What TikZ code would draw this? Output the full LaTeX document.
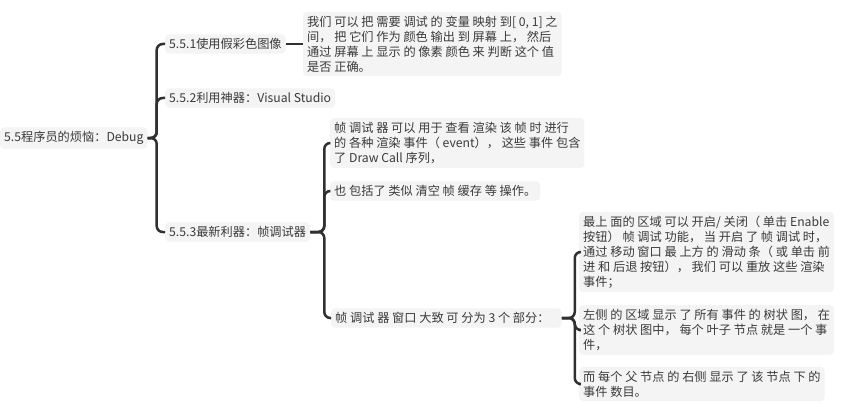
\documentclass[tikz,border=0pt]{standalone}
\usepackage{fontspec}
\setmainfont{Noto Sans CJK SC}
\definecolor{boxfill}{HTML}{F4F4F4}
\definecolor{txt}{HTML}{3A3A3A}
\definecolor{linec}{HTML}{303030}
\tikzset{
  topic/.style={fill=boxfill, rounded corners=4pt, text=txt, inner xsep=4pt, inner ysep=4pt,
    font=\fontsize{12.2}{15}\selectfont, align=left, anchor=west},
  conn/.style={draw=linec, line width=2.5pt, rounded corners=6pt},
}
\begin{document}
\begin{tikzpicture}[x=1pt,y=-1pt]
\useasboundingbox[fill=white] (0,0) rectangle (863,404);
\node[topic] (root) at (0,138) {5.5程序员的烦恼：Debug};
\node[topic] (c1) at (165,44) {5.5.1使用假彩色图像};
\node[topic] (c2) at (165,98) {5.5.2利用神器：Visual Studio};
\node[topic] (c3) at (165,232) {5.5.3最新利器：帧调试器};
\node[topic] (l1) at (303,44) {我们 可以 把 需要 调试 的 变量 映射 到[ 0, 1] 之\\间， 把 它们 作为 颜色 输出 到 屏幕 上， 然后\\通过 屏幕 上 显示 的 像素 颜色 来 判断 这个 值\\是否 正确。};
\node[topic] (l3a) at (330,143) {帧 调试 器 可以 用于 查看 渲染 该 帧 时 进行\\的 各种 渲染 事件（ event）， 这些 事件 包含\\了 Draw Call 序列，};
\node[topic] (l3b) at (330,191) {也 包括了 类似 清空 帧 缓存 等 操作。};
\node[topic] (l3c) at (331,318) {帧 调试 器 窗口 大致 可 分为 3 个 部分：\hspace{8pt}};
\node[topic] (la) at (579,252) {最上 面的 区域 可以 开启/ 关闭（ 单击 Enable\\按钮） 帧 调试 功能， 当 开启 了 帧 调试 时，\\通过 移动 窗口 最 上方 的 滑动 条（ 或 单击 前\\进 和 后退 按钮）， 我们 可以 重放 这些 渲染\\事件；};
\node[topic] (lb) at (579,330) {左侧 的 区域 显示 了 所有 事件 的 树状 图， 在\\这 个 树状 图中， 每个 叶子 节点 就是 一个 事\\件，};
\node[topic] (lc) at (579,384) {而 每个 父 节点 的 右侧 显示 了 该 节点 下 的\\事件 数目。};
% connectors
\draw[conn] (root.east) -- ++(9,0) |- (c1.west);
\draw[conn] (root.east) -- ++(9,0) |- (c2.west);
\draw[conn] (root.east) -- ++(9,0) |- (c3.west);
\draw[conn] (c1.east) -- (l1.west);
\draw[conn] (c3.east) -- ++(14,0) |- (l3a.west);
\draw[conn] (c3.east) -- ++(14,0) |- (l3b.west);
\draw[conn] (c3.east) -- ++(14,0) |- (l3c.west);
\draw[conn] (l3c.east) -- ++(13,0) |- (la.west);
\draw[conn] (l3c.east) -- ++(13,0) |- (lb.west);
\draw[conn] (l3c.east) -- ++(13,0) |- (lc.west);
\end{tikzpicture}
\end{document}
